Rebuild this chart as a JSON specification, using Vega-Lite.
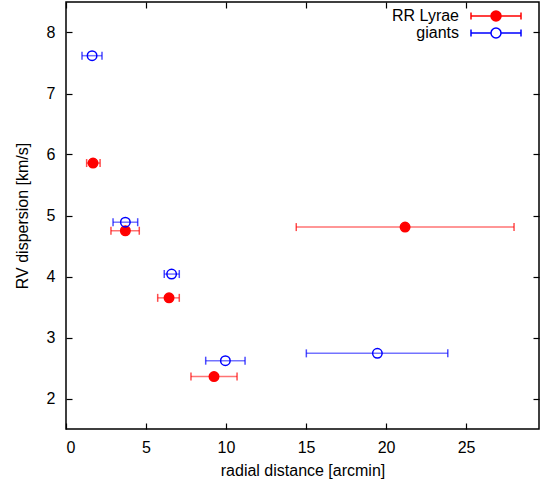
{
  "$schema": "https://vega.github.io/schema/vega-lite/v6.json",
  "width": 473,
  "height": 427,
  "autosize": {"type": "none"},
  "padding": {"left": 66, "top": 2, "right": 8, "bottom": 53},
  "config": {
    "view": {"stroke": "#000", "strokeWidth": 1.5},
    "font": "Liberation Sans",
    "axis": {
      "grid": false,
      "domain": false,
      "tickColor": "#000",
      "tickWidth": 1.2,
      "labelFont": "Liberation Sans",
      "labelFontSize": 16,
      "labelColor": "black",
      "titleFont": "Liberation Sans",
      "titleFontSize": 16,
      "titleFontWeight": "normal",
      "titleColor": "black"
    }
  },
  "data": {
    "values": [
      {"series": "RR Lyrae", "x": 1.69, "xlo": 1.29, "xhi": 2.13, "y": 5.86},
      {"series": "RR Lyrae", "x": 3.71, "xlo": 2.81, "xhi": 4.58, "y": 4.75},
      {"series": "RR Lyrae", "x": 6.44, "xlo": 5.73, "xhi": 7.08, "y": 3.65},
      {"series": "RR Lyrae", "x": 9.25, "xlo": 7.81, "xhi": 10.69, "y": 2.36},
      {"series": "RR Lyrae", "x": 21.19, "xlo": 14.39, "xhi": 28.0, "y": 4.81},
      {"series": "giants", "x": 1.63, "xlo": 1.0, "xhi": 2.25, "y": 7.62},
      {"series": "giants", "x": 3.71, "xlo": 2.94, "xhi": 4.48, "y": 4.89},
      {"series": "giants", "x": 6.6, "xlo": 6.14, "xhi": 7.08, "y": 4.04},
      {"series": "giants", "x": 9.96, "xlo": 8.73, "xhi": 11.19, "y": 2.62},
      {"series": "giants", "x": 19.46, "xlo": 15.02, "xhi": 23.86, "y": 2.74}
    ]
  },
  "resolve": {"axis": {"x": "independent", "y": "independent"}},
  "layer": [
    {
      "mark": {"type": "point", "size": 90, "strokeWidth": 1.5, "opacity": 1},
      "encoding": {
        "x": {"field": "x", "type": "quantitative", "scale": {"domain": [0, 29.56], "nice": false, "zero": false},
              "axis": {"title": "radial distance [arcmin]", "values": [0, 5, 10, 15, 20, 25], "ticks": false, "tickSize": 0, "labelPadding": 10, "titlePadding": 7}},
        "y": {"field": "y", "type": "quantitative", "scale": {"domain": [1.5, 8.5], "nice": false, "zero": false},
              "axis": {"title": "RV dispersion [km/s]", "values": [2, 3, 4, 5, 6, 7, 8], "ticks": false, "tickSize": 0, "labelPadding": 11, "titlePadding": 16}},
        "stroke": {"field": "series", "type": "nominal", "scale": {"domain": ["RR Lyrae", "giants"], "range": ["#ff0000", "#0000ff"]},
                   "legend": {"title": null, "orient": "none", "legendX": 422, "legendY": 6, "padding": 0,
                              "symbolType": "M-5,0H-1M1,0H5M-5,-0.7V0.7M5,-0.7V0.7M1,0A1,1,0,1,1,-1,0A1,1,0,1,1,1,0Z",
                              "symbolSize": 100, "symbolStrokeWidth": 1.5, "symbolOpacity": 1, "labelAlign": "right", "labelOffset": -45,
                              "labelFont": "Liberation Sans", "labelFontSize": 16, "labelColor": "black", "rowPadding": 1}},
        "fill": {"field": "series", "type": "nominal", "scale": {"domain": ["RR Lyrae", "giants"], "range": ["#ff0000", "transparent"]}}
      }
    },
    {
      "mark": {"type": "rule", "opacity": 0.55, "strokeWidth": 1.5},
      "encoding": {
        "x": {"field": "xlo", "type": "quantitative", "axis": {"orient": "top", "offset": -427, "labels": false, "title": null, "tickSize": 6, "values": [0, 5, 10, 15, 20, 25]}},
        "x2": {"field": "xhi"},
        "y": {"field": "y", "type": "quantitative", "axis": {"orient": "right", "offset": -473, "labels": false, "title": null, "tickSize": 6, "values": [2, 3, 4, 5, 6, 7, 8]}},
        "stroke": {"field": "series", "type": "nominal"}
      }
    },
    {
      "mark": {"type": "tick", "orient": "vertical", "size": 8, "thickness": 1.5, "opacity": 0.7},
      "encoding": {
        "x": {"field": "xlo", "type": "quantitative", "axis": {"orient": "bottom", "offset": -427, "labels": false, "title": null, "tickSize": 6, "values": [0, 5, 10, 15, 20, 25]}},
        "y": {"field": "y", "type": "quantitative", "axis": {"orient": "left", "offset": -473, "labels": false, "title": null, "tickSize": 6, "values": [2, 3, 4, 5, 6, 7, 8]}},
        "color": {"field": "series", "type": "nominal", "scale": {"domain": ["RR Lyrae", "giants"], "range": ["#ff0000", "#0000ff"]}, "legend": null}
      }
    },
    {
      "mark": {"type": "tick", "orient": "vertical", "size": 8, "thickness": 1.5, "opacity": 0.7},
      "encoding": {
        "x": {"field": "xhi", "type": "quantitative", "axis": null},
        "y": {"field": "y", "type": "quantitative", "axis": null},
        "color": {"field": "series", "type": "nominal", "scale": {"domain": ["RR Lyrae", "giants"], "range": ["#ff0000", "#0000ff"]}, "legend": null}
      }
    }
  ]
}
